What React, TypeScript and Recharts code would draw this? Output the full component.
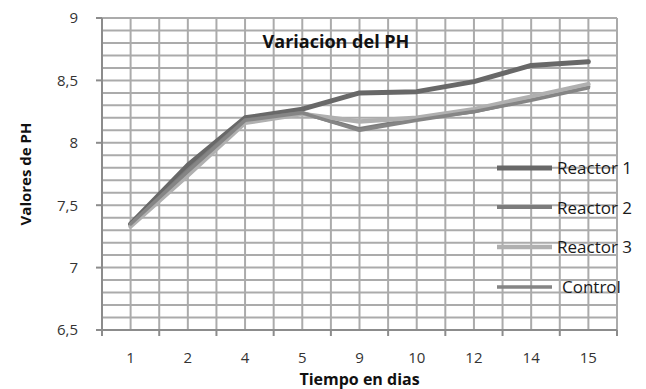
import { LineChart, Line, XAxis, YAxis, CartesianGrid, Legend } from 'recharts'

// dias de muestreo
const days = ['1', '2', '4', '5', '9', '10', '12', '14', '15']

const reactor1 = [7.35, 7.82, 8.2, 8.27, 8.4, 8.41, 8.49, 8.62, 8.65]
const reactor2 = [7.34, 7.78, 8.18, 8.24, 8.11, 8.19, 8.25, 8.35, 8.45]
const reactor3 = [7.33, 7.74, 8.16, 8.23, 8.17, 8.2, 8.27, 8.37, 8.47]
const control = [7.35, 7.77, 8.18, 8.24, 8.1, 8.18, 8.25, 8.34, 8.44]

const yMajor = [6.5, 7, 7.5, 8, 8.5, 9]

const SERIES = [
  { key: 'r1', name: 'Reactor 1', color: '#686868', width: 5 },
  { key: 'r2', name: 'Reactor 2', color: '#7c7c7c', width: 4 },
  { key: 'r3', name: 'Reactor 3', color: '#b0b0b0', width: 4.5 },
  { key: 'ctrl', name: 'Control', color: '#858585', width: 3.5 },
]

const FONT = '"Open Sans", Lato, sans-serif'

const data = days.map((dia, i) => ({
  idx: i,
  dia,
  r1: reactor1[i],
  r2: reactor2[i],
  r3: reactor3[i],
  ctrl: control[i],
}))

// gridlines at every half category and every 0.1 of pH
const xTicks = Array.from({ length: days.length * 2 + 1 }, (_, i) => i / 2 - 0.5)
const yTicks = Array.from({ length: 26 }, (_, i) => Number((6.5 + i * 0.1).toFixed(1)))

const X_MARGIN = 22
const Y_MARGIN = 24

function XTick({ x, y, payload }: any) {
  const v = payload.value
  if (Number.isInteger(v)) {
    return (
      <text x={x} y={y} dy="0.71em" textAnchor="middle" fontSize={15} fill="#333" fontFamily={FONT}>
        {days[v]}
      </text>
    )
  }
  const axisY = y - X_MARGIN
  return <line x1={x} x2={x} y1={axisY} y2={axisY + 6} stroke="#8c8c8c" strokeWidth={2} />
}

function YTick({ x, y, payload }: any) {
  const v = payload.value
  if (!yMajor.some((m) => Math.abs(m - v) < 1e-6)) return null
  const axisX = x + Y_MARGIN
  return (
    <g>
      <line x1={axisX - 6} x2={axisX} y1={y} y2={y} stroke="#8c8c8c" strokeWidth={2} />
      <text x={x} y={y} dy="0.355em" textAnchor="end" fontSize={15} fill="#333" fontFamily={FONT}>
        {String(v).replace('.', ',')}
      </text>
    </g>
  )
}

function renderLegend() {
  return (
    <div style={{ fontFamily: FONT }}>
      {SERIES.map((s) => (
        <div key={s.key} style={{ height: 39.6, display: 'flex', alignItems: 'center' }}>
          <svg width={58} height={10}>
            <line x1={0} x2={55} y1={5} y2={5} stroke={s.color} strokeWidth={s.width} />
          </svg>
          <span style={{ fontSize: 17, color: '#1a1a1a', marginLeft: s.key === 'ctrl' ? 7 : 2 }}>{s.name}</span>
        </div>
      ))}
    </div>
  )
}

export default function App() {
  return (
    <div style={{ position: 'absolute', left: 0, top: 0, background: '#fff' }}>
      <LineChart width={646} height={389} data={data} margin={{ top: 18, right: 29, bottom: 0, left: 0 }}>
        <CartesianGrid stroke="#ababab" strokeWidth={2} />
        <XAxis
          dataKey="idx"
          type="number"
          domain={[-0.5, 8.5]}
          ticks={xTicks}
          interval={0}
          height={59}
          tickSize={0}
          tickMargin={X_MARGIN}
          tickLine={false}
          tick={<XTick />}
          axisLine={{ stroke: '#8c8c8c', strokeWidth: 2 }}
          label={{
            content: ({ viewBox }: any) => (
              <text
                x={viewBox.x + viewBox.width / 2}
                y={viewBox.y + viewBox.height - 4}
                textAnchor="middle"
                fontSize={16}
                fontWeight="bold"
                fill="#111"
                fontFamily={FONT}
              >
                Tiempo en dias
              </text>
            ),
          }}
        />
        <YAxis
          type="number"
          domain={[6.5, 9]}
          ticks={yTicks}
          interval={0}
          width={102}
          tickSize={0}
          tickMargin={Y_MARGIN}
          tickLine={false}
          tick={<YTick />}
          axisLine={{ stroke: '#8c8c8c', strokeWidth: 2 }}
          label={{
            content: ({ viewBox }: any) => {
              const cx = 25
              const cy = viewBox.y + viewBox.height / 2
              return (
                <text
                  x={cx}
                  y={cy}
                  transform={`rotate(-90 ${cx} ${cy})`}
                  textAnchor="middle"
                  dominantBaseline="central"
                  fontSize={15}
                  fontWeight="bold"
                  fill="#111"
                  fontFamily={FONT}
                >
                  Valores de PH
                </text>
              )
            },
          }}
        />
        <Legend
          layout="vertical"
          align="center"
          verticalAlign="middle"
          content={renderLegend}
          wrapperStyle={{ left: 497, top: 148, width: 150 }}
        />
        {SERIES.map((s) => (
          <Line
            key={s.key}
            dataKey={s.key}
            name={s.name}
            type="linear"
            stroke={s.color}
            strokeWidth={s.width}
            strokeLinecap="round"
            strokeLinejoin="round"
            dot={false}
            activeDot={false}
            isAnimationActive={false}
          />
        ))}
        <text x={336} y={48} textAnchor="middle" fontSize={18} fontWeight="bold" fill="#111" fontFamily={FONT}>
          Variacion del PH
        </text>
      </LineChart>
    </div>
  )
}
